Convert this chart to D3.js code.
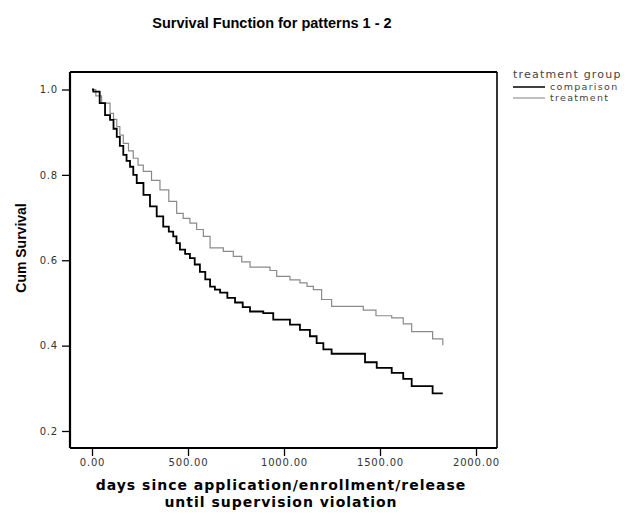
<!DOCTYPE html>
<html>
<head>
<meta charset="utf-8">
<script src="https://cdn.jsdelivr.net/npm/d3@7"></script>
<style>
  body { margin: 0; background: #fff; }
  svg { display: block; }
</style>
</head>
<body>
<svg id="chart" width="633" height="514"></svg>
<script>
// Kaplan-Meier survival estimates (days, cumulative survival)
const comparisonDays = [0, 7, 40, 68, 94, 112, 129, 145, 163, 180, 198, 215, 233, 268, 302, 337, 371, 400, 423, 440, 458, 485, 510, 535, 562, 590, 615, 640, 667, 705, 745, 785, 823, 892, 944, 1031, 1083, 1135, 1170, 1205, 1248, 1422, 1483, 1561, 1621, 1665, 1774, 1827];
const comparisonSurv = [1.0, 0.995, 0.968, 0.940, 0.929, 0.908, 0.889, 0.868, 0.847, 0.833, 0.819, 0.800, 0.781, 0.753, 0.726, 0.703, 0.679, 0.667, 0.656, 0.640, 0.625, 0.615, 0.605, 0.590, 0.573, 0.555, 0.538, 0.531, 0.524, 0.512, 0.501, 0.490, 0.480, 0.476, 0.461, 0.449, 0.437, 0.422, 0.406, 0.391, 0.381, 0.361, 0.348, 0.336, 0.322, 0.305, 0.288];

const treatmentDays = [0, 20, 50, 94, 112, 129, 145, 163, 190, 215, 240, 267, 310, 354, 400, 441, 475, 510, 545, 580, 615, 684, 736, 780, 823, 927, 962, 1031, 1083, 1120, 1153, 1196, 1248, 1413, 1479, 1561, 1621, 1665, 1774, 1827];
const treatmentSurv = [1.0, 0.985, 0.968, 0.944, 0.930, 0.913, 0.893, 0.874, 0.856, 0.839, 0.823, 0.808, 0.787, 0.765, 0.738, 0.710, 0.698, 0.687, 0.672, 0.656, 0.629, 0.621, 0.609, 0.596, 0.584, 0.576, 0.562, 0.554, 0.547, 0.539, 0.531, 0.508, 0.492, 0.483, 0.470, 0.465, 0.451, 0.433, 0.416, 0.401];

const xTicks = [0, 500, 1000, 1500, 2000];
const yTicks = [0.2, 0.4, 0.6, 0.8, 1.0];

const groups = [
  { name: "comparison", days: comparisonDays, surv: comparisonSurv, color: "#000", width: 1.8 },
  { name: "treatment", days: treatmentDays, surv: treatmentSurv, color: "#8a8a8a", width: 1.2 }
];

const svg = d3.select("#chart");
const frame = { left: 70, right: 497, top: 72, bottom: 448 };

const x = d3.scaleLinear().domain([0, 2000]).range([92, 476]);
const y = d3.scaleLinear().domain([0.2, 1.0]).range([431, 89.5]);

// Title
svg.append("text")
  .attr("x", 272).attr("y", 28)
  .attr("text-anchor", "middle")
  .style("font-family", "Liberation Sans, Arial, sans-serif")
  .style("font-weight", "bold").style("font-size", "14.5px")
  .text("Survival Function for patterns 1 - 2");

// Curves (step functions)
const line = d3.line()
  .x(d => x(d[0]))
  .y(d => y(d[1]))
  .curve(d3.curveStepAfter);

// Treatment drawn first so comparison sits on top
[groups[1], groups[0]].forEach(g => {
  const pts = g.days.map((d, i) => [d, g.surv[i]]);
  svg.append("path")
    .datum(pts)
    .attr("fill", "none")
    .attr("stroke", g.color)
    .attr("stroke-width", g.width)
    .attr("d", line);
});

// Frame
const fg = svg.append("g").attr("stroke", "#000").attr("fill", "none");
fg.append("line").attr("x1", frame.left).attr("x2", frame.right).attr("y1", frame.top).attr("y2", frame.top).attr("stroke-width", 2);
fg.append("line").attr("x1", frame.left).attr("x2", frame.right).attr("y1", frame.bottom).attr("y2", frame.bottom).attr("stroke-width", 2.2);
fg.append("line").attr("x1", frame.left).attr("x2", frame.left).attr("y1", frame.top).attr("y2", frame.bottom).attr("stroke-width", 2.2);
fg.append("line").attr("x1", frame.right).attr("x2", frame.right).attr("y1", frame.top).attr("y2", frame.bottom).attr("stroke-width", 1.6);

// Y axis
const yAxis = d3.axisLeft(y).tickValues(yTicks).tickSize(8).tickPadding(4)
  .tickFormat(d3.format(".1f"));
const yg = svg.append("g").attr("transform", `translate(${frame.left},0)`).call(yAxis);
yg.select(".domain").remove();
yg.selectAll(".tick line").attr("stroke", "#000").attr("stroke-width", 1.3);
yg.selectAll(".tick text")
  .style("font-family", "DejaVu Sans, sans-serif").style("font-size", "10px")
  .style("letter-spacing", "0.8px").attr("fill", "#333");

// X axis
const xAxis = d3.axisBottom(x).tickValues(xTicks).tickSize(8).tickPadding(3)
  .tickFormat(d3.format(".2f"));
const xg = svg.append("g").attr("transform", `translate(0,${frame.bottom})`).call(xAxis);
xg.select(".domain").remove();
xg.selectAll(".tick line").attr("stroke", "#000").attr("stroke-width", 1.3);
xg.selectAll(".tick text")
  .style("font-family", "DejaVu Sans, sans-serif").style("font-size", "10px")
  .style("letter-spacing", "0.8px").attr("fill", "#333");

// Axis titles
svg.append("text")
  .attr("transform", "translate(26,248) rotate(-90)")
  .attr("text-anchor", "middle")
  .style("font-family", "Liberation Sans, Arial, sans-serif")
  .style("font-weight", "bold").style("font-size", "14px")
  .text("Cum Survival");

const xTitle = svg.append("text")
  .attr("text-anchor", "middle")
  .style("font-family", "DejaVu Sans, Verdana, sans-serif")
  .style("font-weight", "bold").style("font-size", "14px")
  .style("letter-spacing", "1px");
xTitle.append("tspan").attr("x", 281).attr("y", 490).text("days since application/enrollment/release");
xTitle.append("tspan").attr("x", 281).attr("y", 507).text("until supervision violation");

// Legend
const lg = svg.append("g").style("font-family", "DejaVu Sans, sans-serif").attr("fill", "#444");
lg.append("text").attr("x", 513).attr("y", 78).style("font-size", "11px")
  .style("letter-spacing", "1.2px").text("treatment group");
groups.forEach((g, i) => {
  const yy = 87 + i * 11;
  lg.append("line").attr("x1", 513).attr("x2", 545).attr("y1", yy).attr("y2", yy)
    .attr("stroke", g.color).attr("stroke-width", i === 0 ? 1.5 : 1.1);
  lg.append("text").attr("x", 550).attr("y", yy + 3).style("font-size", "9.5px")
    .style("letter-spacing", "1.3px").text(g.name);
});
</script>
</body>
</html>
